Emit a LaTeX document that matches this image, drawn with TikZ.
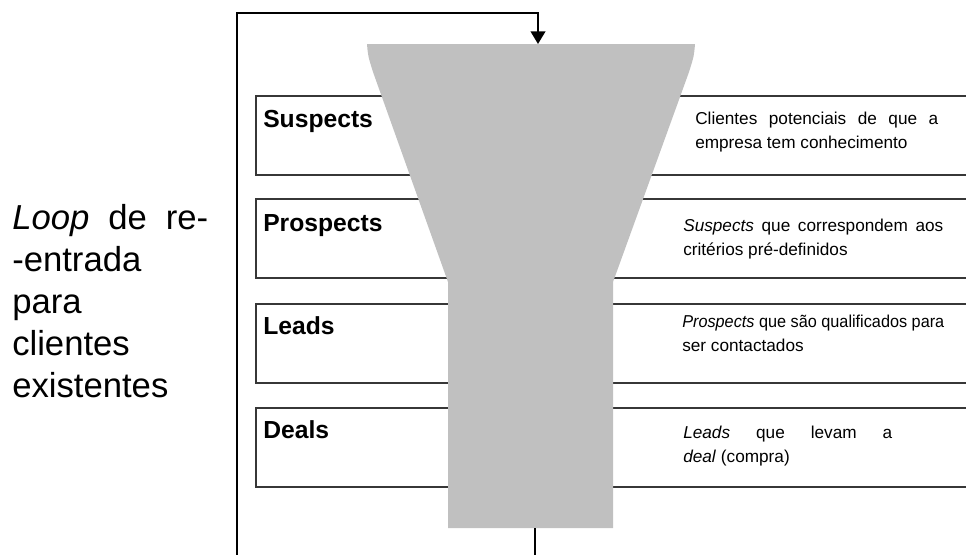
\documentclass[tikz,border=0pt]{standalone}
\usepackage{fontspec}
\setmainfont{Liberation Sans}
\usetikzlibrary{arrows.meta,positioning}

\definecolor{funnelgray}{RGB}{192,192,192}
\definecolor{boxline}{RGB}{55,55,55}

\tikzset{
  stagebox/.style={draw=boxline,line width=1.3pt,fill=white,anchor=north west,inner sep=0pt,
    minimum width=545pt,minimum height=59.25pt},
  stagename/.style={anchor=base west,inner sep=0pt,font=\fontsize{18.5}{22}\selectfont\bfseries},
  % base of a two-line node is its last line
  stagetext/.style={anchor=base west,inner sep=0pt,align=left,font=\fontsize{12.9}{17.5}\selectfont},
  loopline/.style={draw=black,line width=1.5pt},
}

\begin{document}
\begin{tikzpicture}[x=0.75pt,y=0.75pt,yscale=-1]
  \clip (0,0) rectangle (966,554);

  % the four stages, cut at the right edge
  \node[stagebox] (suspects)  at (255,95)  {};
  \node[stagebox] (prospects) at (255,198) {};
  \node[stagebox] (leads)     at (255,303) {};
  \node[stagebox] (deals)     at (255,407) {};

  % funnel over the boxes
  \fill[funnelgray] (367,44) .. controls (368,56) .. (373,72) -- (448,282) -- (448,528)
    -- (613,528) -- (613,282) -- (689,72) .. controls (694,56) .. (695,44) -- cycle;
  \coordinate (funneltop) at (538,44);
  \coordinate (funnelbottom) at (535,528);

  % re-entry loop
  \draw[loopline,-{Triangle[width=11pt,length=9.5pt]}] (237,560) |- (538,13) -- (funneltop);
  \draw[loopline] (funnelbottom) -- (535,560);

  % stage names
  \node[stagename] (suspectsname)  at (263,127) {Suspects};
  \node[stagename] (prospectsname) at (263,231) {Prospects};
  \node[stagename] (leadsname)     at (263,334) {Leads};
  \node[stagename] (dealsname)     at (263,438) {Deals};

  % descriptions
  \node[stagetext] (suspectstext) at (695,148)
    {\makebox[182.25pt][s]{Clientes potenciais de que a}\\empresa tem conhecimento};
  \node[stagetext] (prospectstext) at (683,255)
    {\makebox[195pt][s]{\textit{Suspects} que correspondem aos}\\critérios pré-definidos};
  \node[stagetext] (leadstext) at (682,351)
    {\scalebox{0.945}[1]{\textit{Prospects} que são qualificados para}\\ser contactados};
  \node[stagetext] (dealstext) at (683,462)
    {\makebox[156.75pt][s]{\textit{Leads} que levam a}\\\textit{deal} (compra)};

  % loop label
  \node[anchor=base west,inner sep=0pt,align=left,font=\fontsize{26}{31.5}\selectfont] (looplabel) at (12,397)
    {\makebox[147pt][s]{\textit{Loop} de re-}\\-entrada\\para\\clientes\\existentes};
\end{tikzpicture}
\end{document}
